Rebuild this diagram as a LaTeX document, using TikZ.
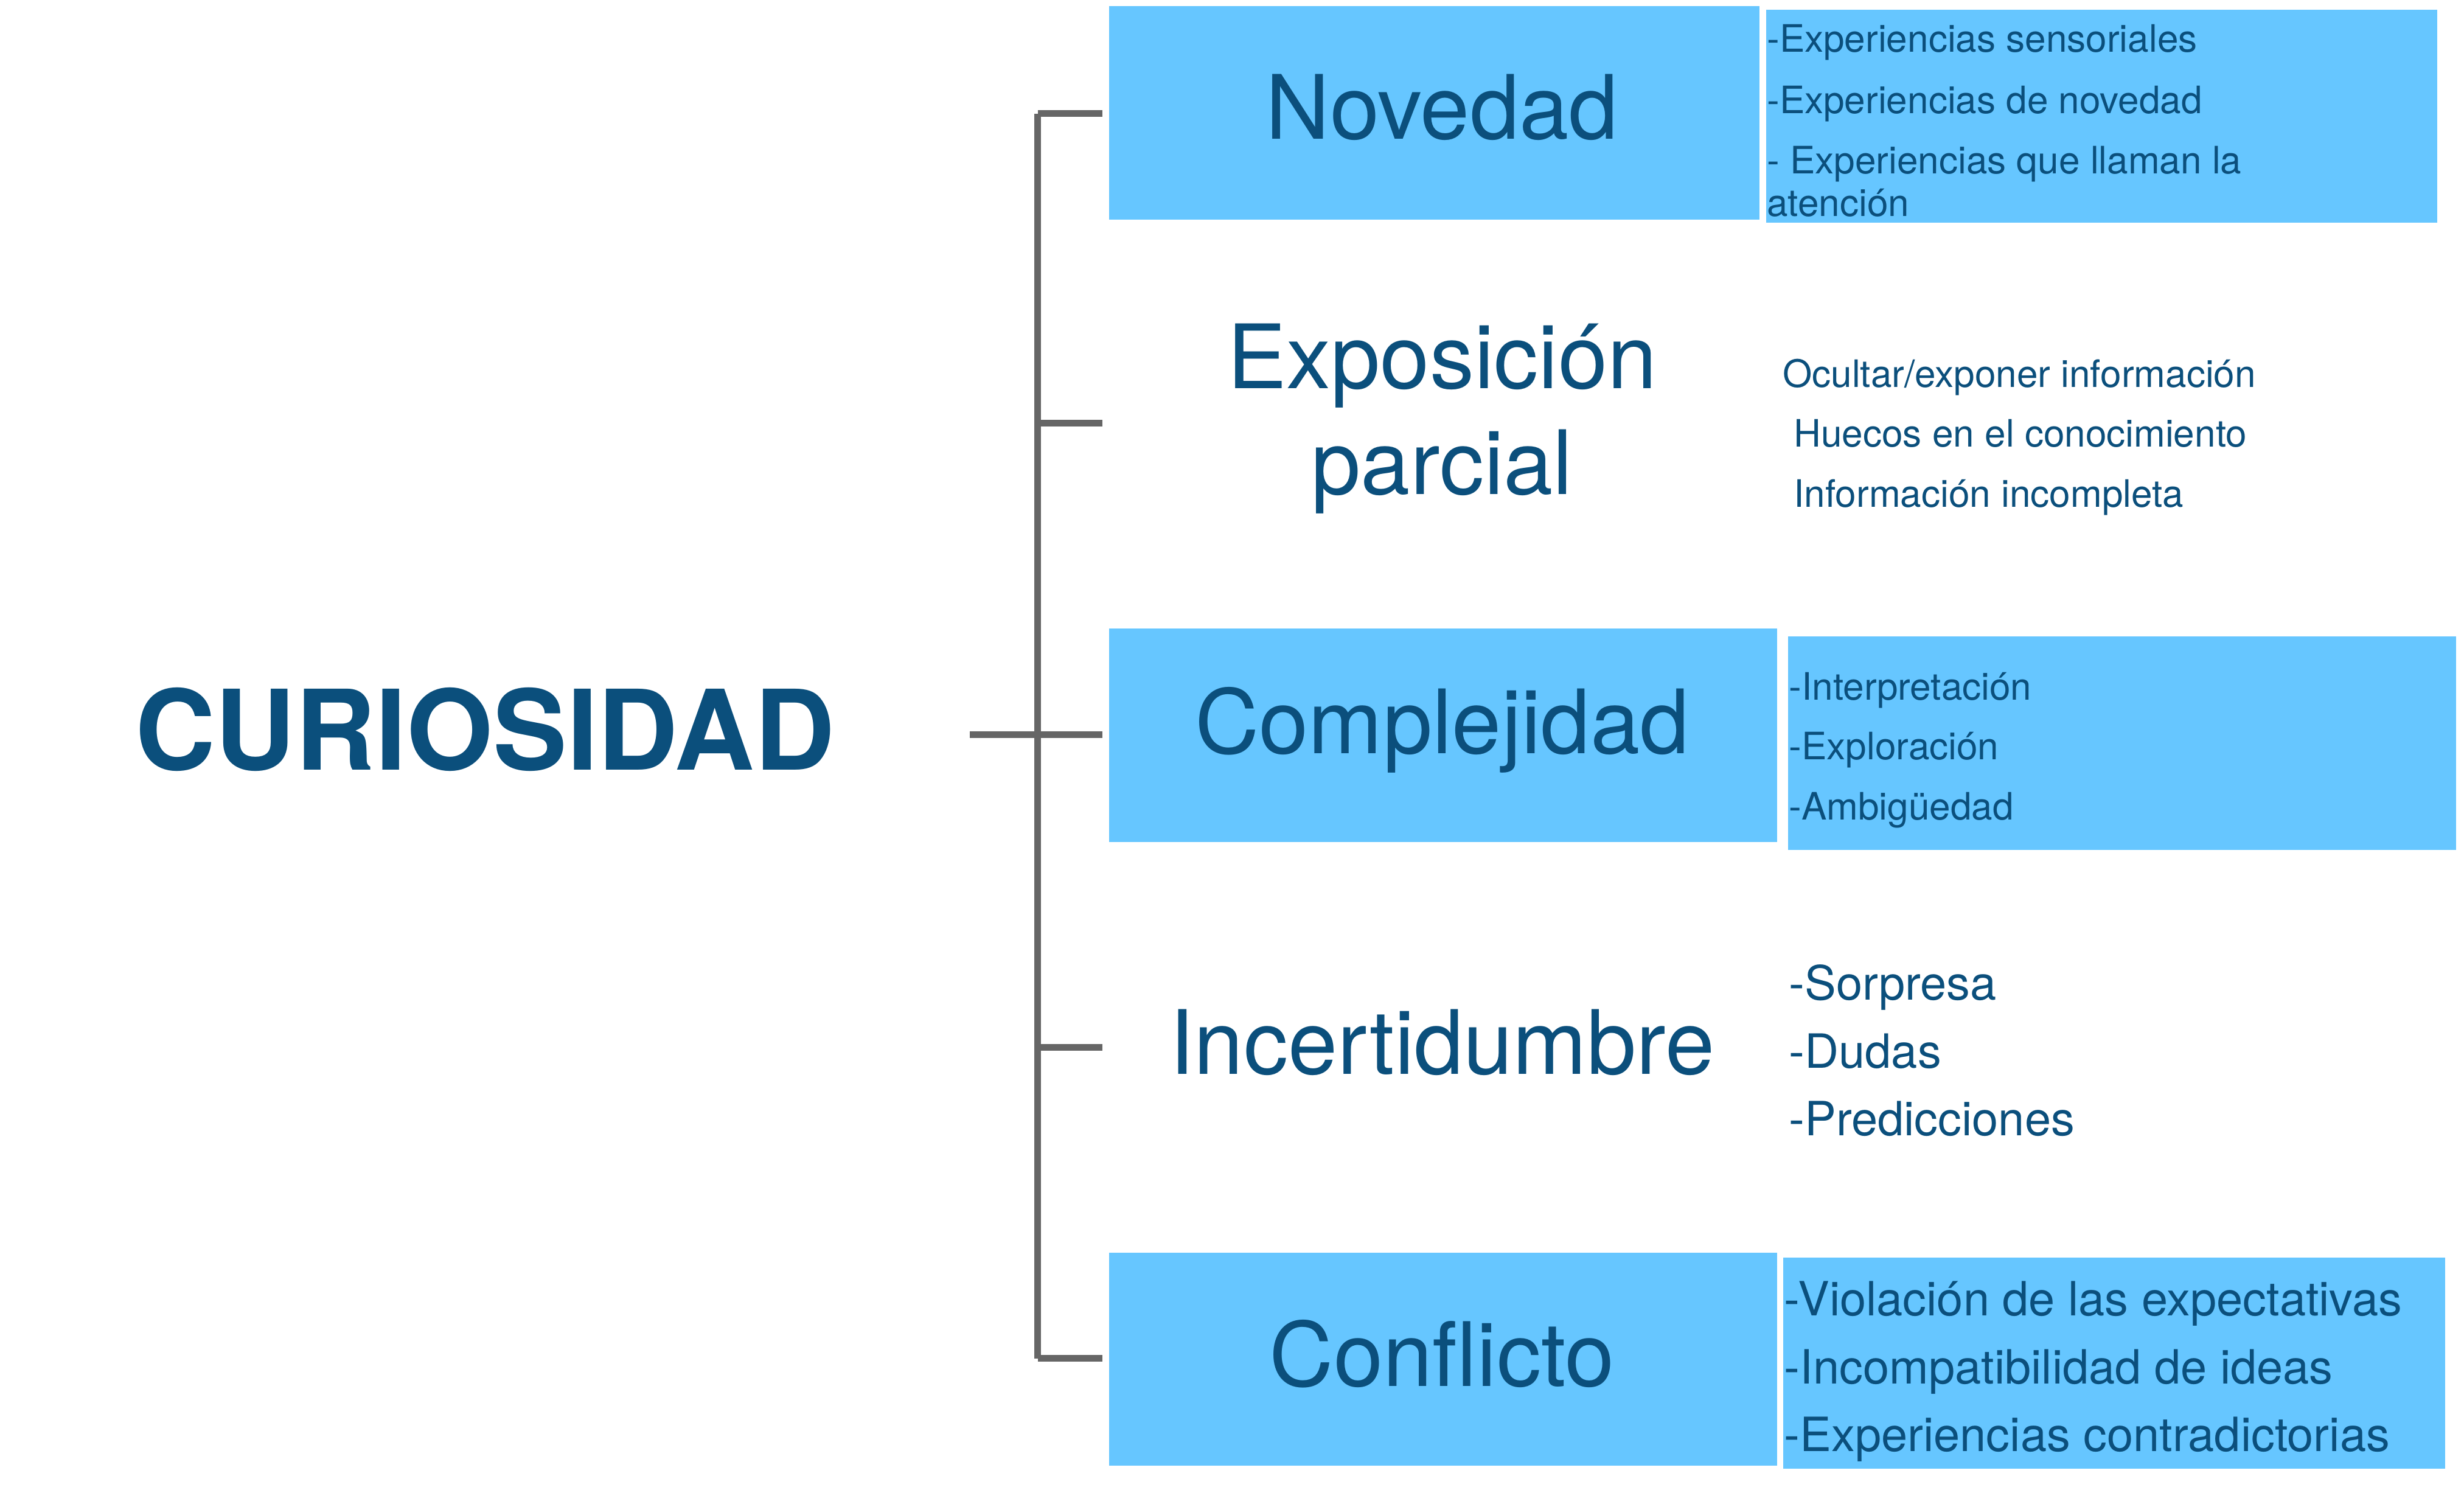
\documentclass[tikz,border=0pt]{standalone}
\usepackage{fontspec}
\setmainfont{TeX Gyre Heros}
\usetikzlibrary{positioning}
\definecolor{txtblue}{HTML}{0B4F7C}
\definecolor{boxblue}{HTML}{66C6FF}
\definecolor{linegray}{HTML}{666666}
\tikzset{
  box/.style={fill=boxblue, draw=none},
  head/.style={text=txtblue, font=\fontsize{16}{19}\selectfont, align=center},
  item/.style={text=txtblue, anchor=base west, inner sep=0pt, font=\fontsize{6.8}{8}\selectfont},
  itembig/.style={item, font=\fontsize{8.5}{10}\selectfont},
  tick/.style={linegray, line width=1.2pt}
}
\begin{document}
\begin{tikzpicture}[x=0.01cm, y=-0.01cm]
    \useasboundingbox (0,0) rectangle (1560,943);

    % colour boxes
    \fill[box] (702,4) rectangle (1114,139);
    \fill[box] (1118,6) rectangle (1543,141);
    \fill[box] (702,398) rectangle (1125,533);
    \fill[box] (1132,403) rectangle (1555,538);
    \fill[box] (702,793) rectangle (1125,928);
    \fill[box] (1129,796) rectangle (1548,930);

    % main title
    \node[text=txtblue, font=\fontsize{20}{24}\selectfont\bfseries] (curiosidad) at (307,462) {CURIOSIDAD};

    % bracket
    \coordinate (stem) at (614,465);
    \coordinate (top) at (657,72);
    \coordinate (bot) at (657,860);
    \coordinate (mid) at (657,465);
    \draw[tick] (stem) -- (mid);
    \draw[tick] (top) -- (bot);
    \foreach \y in {72,268,465,663,860}
        \draw[tick] (657,\y) -- (698,\y);

    % headings
    \node[head] (novedad) at (913,68) {Novedad};
    \node[head] (exposicion) at (913,265) {Exposición\\parcial};
    \node[head] (complejidad) at (913,462) {Complejidad};
    \node[head] (incertidumbre) at (913,660) {Incertidumbre};
    \node[head] (conflicto) at (913,857) {Conflicto};

    % items
    \node[item] (n1) at (1118,33) {-Experiencias sensoriales};
    \node[item] (n2) at (1118,72) {-Experiencias de novedad};
    \node[item] (n3) at (1118,110) {- Experiencias que llaman la};
    \node[item] (n4) at (1118,137) {atención};

    \node[item] (e1) at (1128,245) {Ocultar/exponer información};
    \node[item] (e2) at (1135,283) {Huecos en el conocimiento};
    \node[item] (e3) at (1135,321) {Información incompleta};

    \node[item] (c1) at (1132,443) {-Interpretación};
    \node[item] (c2) at (1132,481) {-Exploración};
    \node[item] (c3) at (1132,519) {-Ambigüedad};

    \node[itembig] (i1) at (1132,633) {-Sorpresa};
    \node[itembig] (i2) at (1132,676) {-Dudas};
    \node[itembig] (i3) at (1132,719) {-Predicciones};

    \node[itembig] (f1) at (1129,833) {-Violación de las expectativas};
    \node[itembig] (f2) at (1129,876) {-Incompatibilidad de ideas};
    \node[itembig] (f3) at (1129,919) {-Experiencias contradictorias};
\end{tikzpicture}
\end{document}
